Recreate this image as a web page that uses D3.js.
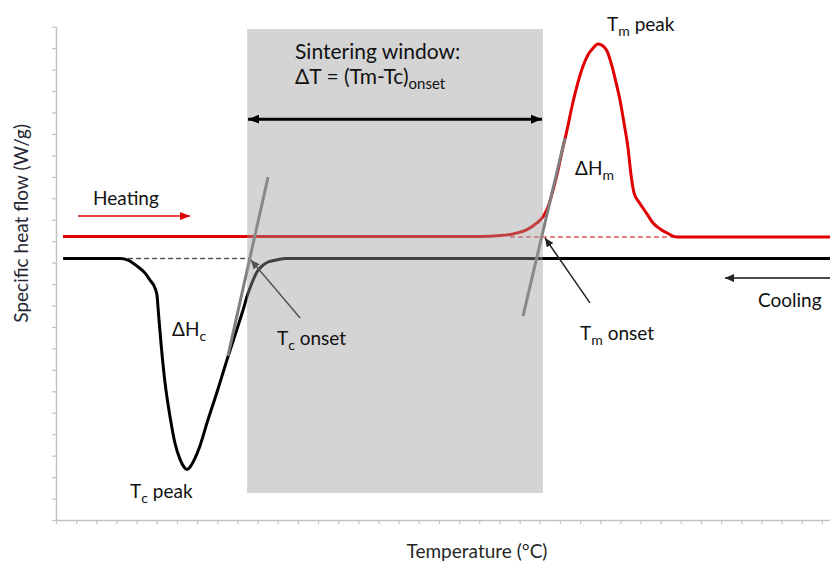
<!DOCTYPE html>
<html>
<head>
<meta charset="utf-8">
<script src="https://cdn.jsdelivr.net/npm/d3@7"></script>
<style>
  body { margin: 0; background: #fff; }
  text { font-family: Lato, "Open Sans", sans-serif; fill: #111; }
</style>
</head>
<body>
<div id="viz"></div>
<script>
// x in tick units (temperature), y in tick units (heat flow)
const xTicks = d3.range(0, 39);
const yTicks = d3.range(0, 24);

const heatX = [0.35, 21.04, 22.03, 22.77, 23.37, 23.86, 24.16, 24.41, 24.66, 24.91, 25.10, 25.30, 25.65, 25.90, 26.15, 26.39, 26.64, 26.89, 27.14, 27.34, 27.58, 27.78, 27.98, 28.18, 28.38, 28.53, 28.68, 28.97, 29.32, 29.62, 29.97, 30.32, 30.81, 38.40];
const heatY = [13.22, 13.22, 13.26, 13.36, 13.54, 13.85, 14.13, 14.59, 15.38, 16.32, 17.16, 17.96, 19.49, 20.42, 21.17, 21.68, 22.00, 22.19, 22.10, 21.86, 21.17, 20.42, 19.58, 18.51, 17.34, 16.08, 15.24, 14.76, 14.27, 13.85, 13.57, 13.38, 13.19, 13.19];

const coolX = [0.35, 3.18, 3.57, 4.02, 4.42, 4.66, 4.91, 5.01, 5.09, 5.23, 5.41, 5.66, 5.90, 6.15, 6.35, 6.50, 6.65, 6.80, 7.14, 7.49, 7.99, 8.48, 8.98, 9.28, 9.48, 9.72, 9.97, 10.22, 10.52, 10.91, 11.41, 38.40];
const coolY = [12.19, 12.19, 12.12, 11.84, 11.51, 11.19, 10.82, 10.49, 9.56, 8.02, 6.39, 4.80, 3.59, 2.84, 2.47, 2.35, 2.47, 2.70, 3.45, 4.52, 5.97, 7.46, 8.90, 9.79, 10.44, 11.05, 11.56, 11.84, 12.03, 12.12, 12.19, 12.19];

// tangents and extrapolated baselines
const tangents = [
  { x1: 8.53, y1: 7.65, x2: 10.52, y2: 15.99 },
  { x1: 23.17, y1: 9.51, x2: 25.25, y2: 17.81 }
];
const baselines = [
  { x1: 3.18, x2: 9.62, y: 12.19, color: '#555' },
  { x1: 22.52, x2: 30.81, y: 13.19, color: '#e8555a' }
];

const windowX = [9.48, 24.16];
const windowY = [1.26, 22.89];
const windowArrowY = 18.69;

const pointers = [
  { x1: 12.11, y1: 9.42, x2: 9.67, y2: 12.12 },
  { x1: 26.49, y1: 10.12, x2: 24.26, y2: 13.15 }
];

const labels = [
  { x: 1.84, y: 14.69, main: 'Heating', sub: '', after: '', big: false },
  { x: 34.83, y: 9.93, main: 'Cooling', sub: '', after: '', big: false },
  { x: 27.34, y: 22.80, main: 'T', sub: 'm', after: ' peak', big: false },
  { x: 25.75, y: 16.08, main: 'ΔH', sub: 'm', after: '', big: false },
  { x: 10.96, y: 8.16, main: 'T', sub: 'c', after: ' onset', big: false },
  { x: 26.0, y: 8.39, main: 'T', sub: 'm', after: ' onset', big: false },
  { x: 5.76, y: 8.58, main: 'ΔH', sub: 'c', after: '', big: false },
  { x: 3.67, y: 1.03, main: 'T', sub: 'c', after: ' peak', big: false },
  { x: 11.86, y: 21.50, main: 'Sintering window:', sub: '', after: '', big: true },
  { x: 11.86, y: 20.33, main: 'ΔT = (Tm-Tc)', sub: 'onset', after: '', big: true }
];

const width = 830, height = 561;

let x = d3.scaleLinear().domain([0, 38.4]).range([56, 830]);
let y = d3.scaleLinear().domain([0, 23]).range([520, 26.7]);

let svg = d3.select('#viz').append('svg')
  .attr('width', width)
  .attr('height', height);

let defs = svg.append('defs');
function marker(id, color, w, h) {
  defs.append('marker')
    .attr('id', id)
    .attr('viewBox', `0 0 ${w} ${h}`)
    .attr('refX', w)
    .attr('refY', h / 2)
    .attr('markerUnits', 'userSpaceOnUse')
    .attr('markerWidth', w)
    .attr('markerHeight', h)
    .attr('orient', 'auto-start-reverse')
    .append('path')
    .attr('d', `M0,0L${w},${h / 2}L0,${h}Z`)
    .attr('fill', color);
}
marker('headBlack', '#000', 11, 9);
marker('headRed', '#e00000', 10, 8);
marker('headThin', '#222', 9, 8);

// axes
let xAxis = svg.append('g')
  .attr('transform', `translate(0,${y(0)})`)
  .call(d3.axisBottom(x).tickValues(xTicks).tickSize(4).tickSizeOuter(0).tickFormat(''));
let yAxis = svg.append('g')
  .attr('transform', `translate(${x(0)},0)`)
  .call(d3.axisLeft(y).tickValues(yTicks).tickSize(4).tickSizeOuter(0).tickFormat(''));
[xAxis, yAxis].forEach(a => {
  a.select('.domain').attr('stroke', '#c3c3c3').attr('stroke-width', 1.5);
  a.selectAll('.tick line').attr('stroke', '#c3c3c3').attr('stroke-width', 1.2);
});

svg.append('text')
  .attr('transform', `translate(28,${(y(0) + y(23)) / 2 - 50}) rotate(-90)`)
  .attr('text-anchor', 'middle')
  .style('font-size', '19px')
  .style('fill', '#262633')
  .text('Specific heat flow (W/g)');

svg.append('text')
  .attr('x', 477)
  .attr('y', 558)
  .attr('text-anchor', 'middle')
  .style('font-size', '19px')
  .style('fill', '#262626')
  .text('Temperature (°C)');

let line = d3.line()
  .x(d => x(d[0]))
  .y(d => y(d[1]))
  .curve(d3.curveMonotoneX);

// dashed baselines
svg.selectAll('.base')
  .data(baselines)
  .enter().append('line')
  .attr('x1', d => x(d.x1)).attr('x2', d => x(d.x2))
  .attr('y1', d => y(d.y)).attr('y2', d => y(d.y))
  .attr('stroke', d => d.color)
  .attr('stroke-width', 1.5)
  .attr('stroke-dasharray', '5,3');

svg.append('path')
  .datum(heatX.map((v, i) => [v, heatY[i]]))
  .attr('d', line)
  .attr('fill', 'none')
  .attr('stroke', '#e00000')
  .attr('stroke-width', 3);

svg.append('path')
  .datum(coolX.map((v, i) => [v, coolY[i]]))
  .attr('d', line)
  .attr('fill', 'none')
  .attr('stroke', '#000')
  .attr('stroke-width', 3);

svg.selectAll('.tan')
  .data(tangents)
  .enter().append('line')
  .attr('x1', d => x(d.x1)).attr('y1', d => y(d.y1))
  .attr('x2', d => x(d.x2)).attr('y2', d => y(d.y2))
  .attr('stroke', '#7f7f7f')
  .attr('stroke-width', 3);

svg.selectAll('.ptr')
  .data(pointers)
  .enter().append('line')
  .attr('x1', d => x(d.x1)).attr('y1', d => y(d.y1))
  .attr('x2', d => x(d.x2)).attr('y2', d => y(d.y2))
  .attr('stroke', '#222')
  .attr('stroke-width', 1.5)
  .attr('marker-end', 'url(#headThin)');

// heating / cooling arrows
svg.append('line')
  .attr('x1', x(1.09)).attr('x2', x(6.65))
  .attr('y1', y(14.17)).attr('y2', y(14.17))
  .attr('stroke', '#e00000').attr('stroke-width', 1.5)
  .attr('marker-end', 'url(#headRed)');

svg.append('line')
  .attr('x1', x(38.4)).attr('x2', x(33.19))
  .attr('y1', y(11.28)).attr('y2', y(11.28))
  .attr('stroke', '#111').attr('stroke-width', 1.5)
  .attr('marker-end', 'url(#headThin)');

// sintering window overlay
svg.append('rect')
  .attr('x', x(windowX[0]))
  .attr('y', y(windowY[1]))
  .attr('width', x(windowX[1]) - x(windowX[0]))
  .attr('height', y(windowY[0]) - y(windowY[1]))
  .attr('fill', '#999')
  .attr('fill-opacity', 0.42);

svg.append('line')
  .attr('x1', x(windowX[0]) + 1).attr('x2', x(windowX[1]) - 1)
  .attr('y1', y(windowArrowY)).attr('y2', y(windowArrowY))
  .attr('stroke', '#000').attr('stroke-width', 3)
  .attr('marker-start', 'url(#headBlack)')
  .attr('marker-end', 'url(#headBlack)');

let lab = svg.selectAll('.lab')
  .data(labels)
  .enter().append('text')
  .attr('x', d => x(d.x))
  .attr('y', d => y(d.y))
  .style('font-size', d => d.big ? '21px' : '19px');
lab.append('tspan').text(d => d.main);
lab.filter(d => d.sub).append('tspan')
  .attr('dy', 5)
  .style('font-size', d => d.big ? '15px' : '14px')
  .text(d => d.sub);
lab.filter(d => d.after).append('tspan')
  .attr('dy', -5)
  .text(d => d.after);
</script>
</body>
</html>
